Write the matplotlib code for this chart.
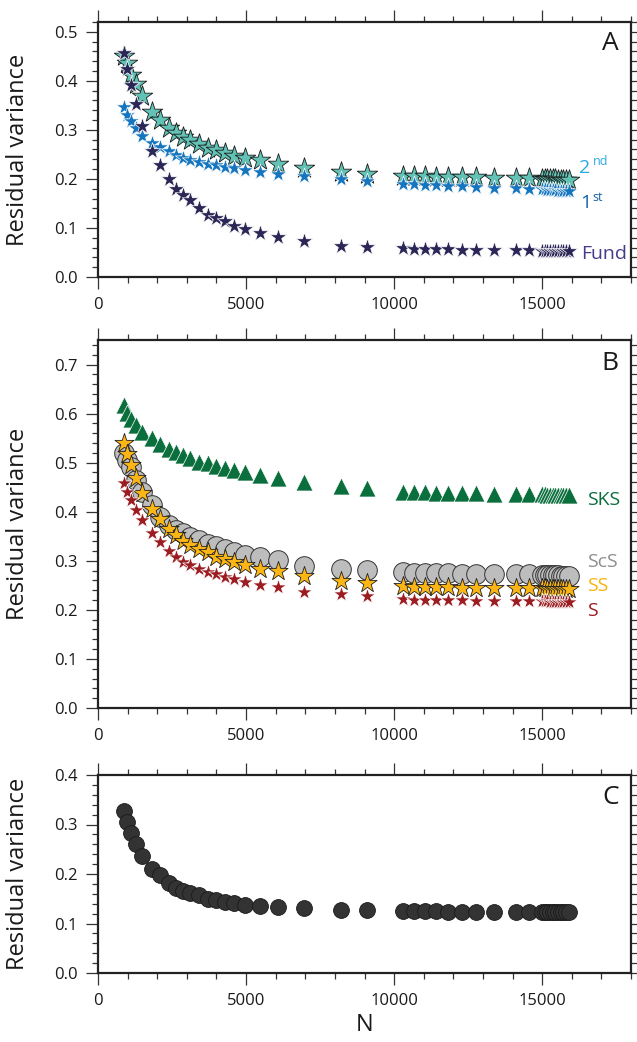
import matplotlib
matplotlib.use("Agg")
import matplotlib.pyplot as plt
from matplotlib.ticker import MultipleLocator, FormatStrFormatter

plt.rcParams['font.family'] = ['Open Sans', 'DejaVu Sans']

# Number of data used (N) -- shared by every curve
N = [870, 990, 1120, 1280, 1500, 1830, 2090, 2410, 2650, 2860, 3100, 3400,
     3730, 3990, 4300, 4590, 4980, 5460, 6090, 6940, 8200, 9080, 10300,
     10660, 11040, 11400, 11810, 12290, 12770, 13380, 14110, 14540, 14990,
     15080, 15170, 15260, 15350, 15440, 15530, 15620, 15710, 15800, 15890]

# Panel A: surface-wave overtones
fund = [0.457, 0.425, 0.392, 0.353, 0.307, 0.256, 0.228, 0.199, 0.180, 0.168,
        0.156, 0.141, 0.127, 0.121, 0.114, 0.105, 0.097, 0.090, 0.082, 0.073,
        0.064, 0.062, 0.059, 0.058, 0.058, 0.057, 0.057, 0.056, 0.056, 0.055,
        0.055, 0.055, 0.054, 0.054, 0.054, 0.054, 0.054, 0.053, 0.053, 0.053,
        0.053, 0.053, 0.053]
first = [0.346, 0.331, 0.319, 0.304, 0.288, 0.274, 0.265, 0.256, 0.249, 0.243,
         0.239, 0.235, 0.231, 0.228, 0.225, 0.222, 0.219, 0.215, 0.211, 0.206,
         0.200, 0.195, 0.190, 0.189, 0.188, 0.187, 0.186, 0.185, 0.184, 0.182,
         0.181, 0.180, 0.179, 0.179, 0.178, 0.178, 0.177, 0.177, 0.176, 0.176,
         0.175, 0.175, 0.175]
second = [0.450, 0.436, 0.412, 0.393, 0.370, 0.337, 0.320, 0.304, 0.293, 0.286,
          0.280, 0.271, 0.263, 0.258, 0.253, 0.246, 0.243, 0.238, 0.231, 0.222,
          0.215, 0.210, 0.206, 0.205, 0.205, 0.204, 0.204, 0.203, 0.203, 0.202,
          0.201, 0.201, 0.200, 0.200, 0.200, 0.199, 0.199, 0.199, 0.198, 0.198,
          0.198, 0.197, 0.197]

# Panel B: body-wave phases
sks = [0.618, 0.602, 0.590, 0.577, 0.563, 0.550, 0.539, 0.527, 0.521, 0.516,
       0.509, 0.502, 0.499, 0.494, 0.490, 0.485, 0.480, 0.475, 0.468, 0.461,
       0.452, 0.448, 0.441, 0.440, 0.440, 0.439, 0.439, 0.438, 0.438, 0.437,
       0.437, 0.436, 0.436, 0.436, 0.435, 0.435, 0.435, 0.435, 0.434, 0.434,
       0.434, 0.434, 0.434]
scs = [0.520, 0.505, 0.492, 0.465, 0.441, 0.414, 0.390, 0.373, 0.363, 0.356,
       0.349, 0.342, 0.335, 0.330, 0.325, 0.318, 0.312, 0.308, 0.301, 0.290,
       0.284, 0.282, 0.277, 0.276, 0.276, 0.275, 0.275, 0.274, 0.274, 0.273,
       0.273, 0.273, 0.272, 0.272, 0.272, 0.271, 0.271, 0.271, 0.271, 0.270,
       0.270, 0.270, 0.270]
ss = [0.541, 0.518, 0.495, 0.468, 0.439, 0.405, 0.386, 0.364, 0.352, 0.341,
      0.332, 0.325, 0.317, 0.308, 0.303, 0.298, 0.291, 0.284, 0.280, 0.269,
      0.259, 0.254, 0.248, 0.247, 0.247, 0.246, 0.246, 0.245, 0.245, 0.245,
      0.244, 0.244, 0.244, 0.244, 0.243, 0.243, 0.243, 0.243, 0.243, 0.243,
      0.243, 0.243, 0.243]
s_wave = [0.459, 0.441, 0.424, 0.403, 0.383, 0.357, 0.339, 0.320, 0.308, 0.298,
          0.291, 0.284, 0.278, 0.273, 0.267, 0.263, 0.257, 0.250, 0.246, 0.237,
          0.232, 0.228, 0.222, 0.221, 0.221, 0.220, 0.220, 0.220, 0.219, 0.219,
          0.219, 0.218, 0.218, 0.218, 0.218, 0.217, 0.217, 0.217, 0.217, 0.217,
          0.217, 0.217, 0.217]

# Panel C: all data combined
combined = [0.327, 0.306, 0.283, 0.260, 0.236, 0.210, 0.197, 0.181, 0.172, 0.165,
            0.162, 0.157, 0.150, 0.147, 0.143, 0.141, 0.137, 0.135, 0.133, 0.131,
            0.127, 0.127, 0.125, 0.125, 0.125, 0.125, 0.124, 0.124, 0.124, 0.124,
            0.124, 0.124, 0.124, 0.124, 0.124, 0.123, 0.123, 0.123, 0.123, 0.123,
            0.123, 0.123, 0.123]

W, H = 637, 1042
fig = plt.figure(figsize=(W / 100, H / 100), dpi=100)


def box(top, bottom, left=98, right=631):
    return [left / W, 1 - bottom / H, (right - left) / W, (bottom - top) / H]


axA = fig.add_axes(box(22, 277))
axB = fig.add_axes(box(340, 708))
axC = fig.add_axes(box(775, 973))

for ax, ytop in ((axA, 0.52), (axB, 0.75), (axC, 0.4)):
    ax.set_xlim(0, 18000)
    ax.set_ylim(0, ytop)
    ax.xaxis.set_major_locator(MultipleLocator(5000))
    ax.xaxis.set_minor_locator(MultipleLocator(1000))
    ax.yaxis.set_major_locator(MultipleLocator(0.1))
    ax.yaxis.set_minor_locator(MultipleLocator(0.02))
    ax.yaxis.set_major_formatter(FormatStrFormatter('%.1f'))
    ax.tick_params(which='both', direction='out', top=True, right=True,
                   color='#333333', width=0.9, labelsize=12, pad=6,
                   labelcolor='#1a1a1a')
    ax.tick_params(which='major', length=8.5)
    ax.tick_params(which='minor', length=4.3)
    for sp in ax.spines.values():
        sp.set_linewidth(1.6)
        sp.set_color('#222222')
    ax.set_ylabel('Residual variance', fontsize=17, color='#1a1a1a')
    ax.yaxis.set_label_coords(-0.128, 0.5)

# Panel A
axA.scatter(N, second, marker='*', s=240, c='#62c2b5', edgecolors='#1a1a1a',
            linewidths=0.6, zorder=3)
axA.scatter(N, first, marker='*', s=150, c='#1576bf', edgecolors='white',
            linewidths=0.5, zorder=4)
axA.scatter(N, fund, marker='*', s=160, c='#2a2656', edgecolors='white',
            linewidths=0.5, zorder=5)
axA.text(16250, 0.222, '2', color='#29a9e1', fontsize=14, va='center', ha='left')
axA.text(16720, 0.236, 'nd', color='#29a9e1', fontsize=9, va='center', ha='left')
axA.text(16300, 0.151, '1', color='#1560a8', fontsize=14, va='center', ha='left')
axA.text(16700, 0.163, 'st', color='#1560a8', fontsize=9, va='center', ha='left')
axA.text(16300, 0.047, 'Fund', color='#463a8a', fontsize=14, va='center', ha='left')
axA.text(17300, 0.477, 'A', color='#1a1a1a', fontsize=19, va='center', ha='center')

# Panel B
axB.scatter(N, sks, marker='^', s=150, c='#0b6e3d', edgecolors='white',
            linewidths=0.5, zorder=3)
axB.scatter(N, scs, marker='o', s=200, c='#bdbdbd', edgecolors='#333333',
            linewidths=0.7, zorder=3)
axB.scatter(N, ss, marker='*', s=210, c='#fbb615', edgecolors='#222222',
            linewidths=0.6, zorder=4)
axB.scatter(N, s_wave, marker='*', s=140, c='#9b1c21', edgecolors='white',
            linewidths=0.5, zorder=5)
axB.text(16500, 0.424, 'SKS', color='#0b6e3d', fontsize=14, va='center', ha='left')
axB.text(16500, 0.297, 'ScS', color='#8e8e8e', fontsize=14, va='center', ha='left')
axB.text(16500, 0.248, 'SS', color='#f6b40e', fontsize=14, va='center', ha='left')
axB.text(16500, 0.198, 'S', color='#9b1c21', fontsize=14, va='center', ha='left')
axB.text(17300, 0.703, 'B', color='#1a1a1a', fontsize=19, va='center', ha='center')

# Panel C
axC.scatter(N, combined, marker='o', s=130, c='#333333', edgecolors='#1a1a1a',
            linewidths=0.6, zorder=3)
axC.text(17300, 0.354, 'C', color='#1a1a1a', fontsize=19, va='center', ha='center')
axC.set_xlabel('N', fontsize=17, color='#1a1a1a', labelpad=3)

fig.savefig('out.png', dpi=100)
